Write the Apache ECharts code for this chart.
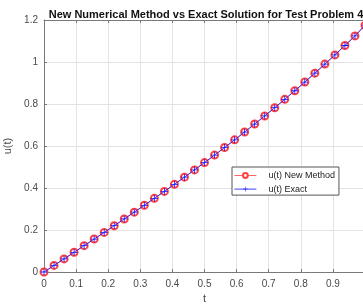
<!DOCTYPE html>
<html>
<head>
<meta charset="utf-8">
<script src="https://cdn.jsdelivr.net/npm/echarts@6/dist/echarts.min.js"></script>
<style>html,body{margin:0;padding:0;background:#fff}#c{width:363px;height:304px}</style>
</head>
<body>
<div id="c"></div>
<script>
const titleText = 'New Numerical Method vs Exact Solution for Test Problem 4';
const tValues = [0, 0.03125, 0.0625, 0.09375, 0.125, 0.15625, 0.1875, 0.21875, 0.25, 0.28125,
  0.3125, 0.34375, 0.375, 0.40625, 0.4375, 0.46875, 0.5, 0.53125, 0.5625, 0.59375,
  0.625, 0.65625, 0.6875, 0.71875, 0.75, 0.78125, 0.8125, 0.84375, 0.875, 0.90625,
  0.9375, 0.96875, 1];
const uNewMethod = [0, 0.0313, 0.0625, 0.0939, 0.1253, 0.1569, 0.1886, 0.2205, 0.2526, 0.2850,
  0.3176, 0.3506, 0.3839, 0.4175, 0.4516, 0.4861, 0.5211, 0.5566, 0.5927, 0.6293,
  0.6666, 0.7045, 0.7431, 0.7824, 0.8223, 0.8631, 0.9046, 0.9469, 0.9899, 1.0338,
  1.0786, 1.1243, 1.1752];
const uExact = [0, 0.0313, 0.0625, 0.0939, 0.1253, 0.1569, 0.1886, 0.2205, 0.2526, 0.2850,
  0.3176, 0.3506, 0.3839, 0.4175, 0.4516, 0.4861, 0.5211, 0.5566, 0.5927, 0.6293,
  0.6666, 0.7045, 0.7431, 0.7824, 0.8223, 0.8631, 0.9046, 0.9469, 0.9899, 1.0338,
  1.0786, 1.1243, 1.1752];
const seriesNames = ['u(t) New Method', 'u(t) Exact'];
const xLabel = 't';
const yLabel = 'u(t)';

const font = '"Liberation Sans", Arial, sans-serif';
const axisCol = '#7a7a7a';
const labelCol = '#4a4a4a';
const gridCol = '#e3e3e3';
const plusPath = 'path://M4.45,0H5.55V4.45H10V5.55H5.55V10H4.45V5.55H0V4.45H4.45Z';

const chart = echarts.init(document.getElementById('c'), null, {renderer: 'canvas'});
const baseX = {
  type: 'value', min: 0, max: 1, interval: 0.1,
  axisLine: {show: true, onZero: false, lineStyle: {color: axisCol, width: 1}},
  axisTick: {show: true, inside: true, length: 3, lineStyle: {color: axisCol}},
};
chart.setOption({
  animation: false,
  backgroundColor: '#fff',
  title: {
    text: titleText, left: 201, top: 4, textAlign: 'center',
    textStyle: {fontFamily: font, fontSize: 11, fontWeight: 'bold', color: '#111'}
  },
  grid: {left: 44, top: 20, width: 321, height: 252, containLabel: false, outerBoundsMode: 'none'},
  legend: {
    left: 232, top: 167, orient: 'vertical',
    data: seriesNames,
    itemWidth: 22, itemHeight: 6, itemGap: 4.6,
    padding: [4, 4, 1.5, 2],
    borderColor: '#555', borderWidth: 1, backgroundColor: '#fff',
    lineStyle: {width: 0.8},
    itemStyle: {borderWidth: 0.7},
    textStyle: {fontFamily: font, fontSize: 9, color: '#222', padding: [0, 0, 0, 7], lineHeight: 9}
  },
  xAxis: [
    Object.assign({}, baseX, {
      position: 'bottom',
      axisLabel: {
        color: labelCol, fontFamily: font, fontSize: 10, margin: 7,
        formatter: v => String(Math.round(v * 10) / 10)
      },
      splitLine: {show: true, lineStyle: {color: gridCol, width: 1}},
      name: xLabel, nameLocation: 'middle', nameGap: 20,
      nameTextStyle: {fontFamily: font, fontSize: 11, color: labelCol}
    }),
    Object.assign({}, baseX, {
      position: 'top', axisLabel: {show: false}, splitLine: {show: false}
    })
  ],
  yAxis: [{
    type: 'value', min: 0, max: 1.2, interval: 0.2,
    axisLine: {show: true, onZero: false, lineStyle: {color: axisCol, width: 1}},
    axisTick: {show: true, inside: true, length: 3, lineStyle: {color: axisCol}},
    axisLabel: {
      color: labelCol, fontFamily: font, fontSize: 10, margin: 6,
      formatter: v => String(Math.round(v * 10) / 10)
    },
    splitLine: {show: true, lineStyle: {color: gridCol, width: 1}},
    name: yLabel, nameLocation: 'middle', nameGap: 30,
    nameTextStyle: {fontFamily: font, fontSize: 11, color: labelCol}
  }],
  series: [
    {
      name: seriesNames[0], type: 'line', xAxisIndex: 0,
      data: tValues.map((t, i) => [t, uNewMethod[i]]),
      symbol: 'emptyCircle', symbolSize: 7, showAllSymbol: true,
      lineStyle: {color: '#ff4040', width: 0.8},
      itemStyle: {color: '#ff4040', borderColor: '#ff4040', borderWidth: 0.7},
      z: 2
    },
    {
      name: seriesNames[1], type: 'line', xAxisIndex: 0,
      data: tValues.map((t, i) => [t, uExact[i]]),
      symbol: plusPath, symbolSize: 7, showAllSymbol: true,
      lineStyle: {color: '#1010ff', width: 0.8},
      itemStyle: {color: '#1010ff', borderWidth: 0},
      z: 3
    }
  ]
});
</script>
</body>
</html>
